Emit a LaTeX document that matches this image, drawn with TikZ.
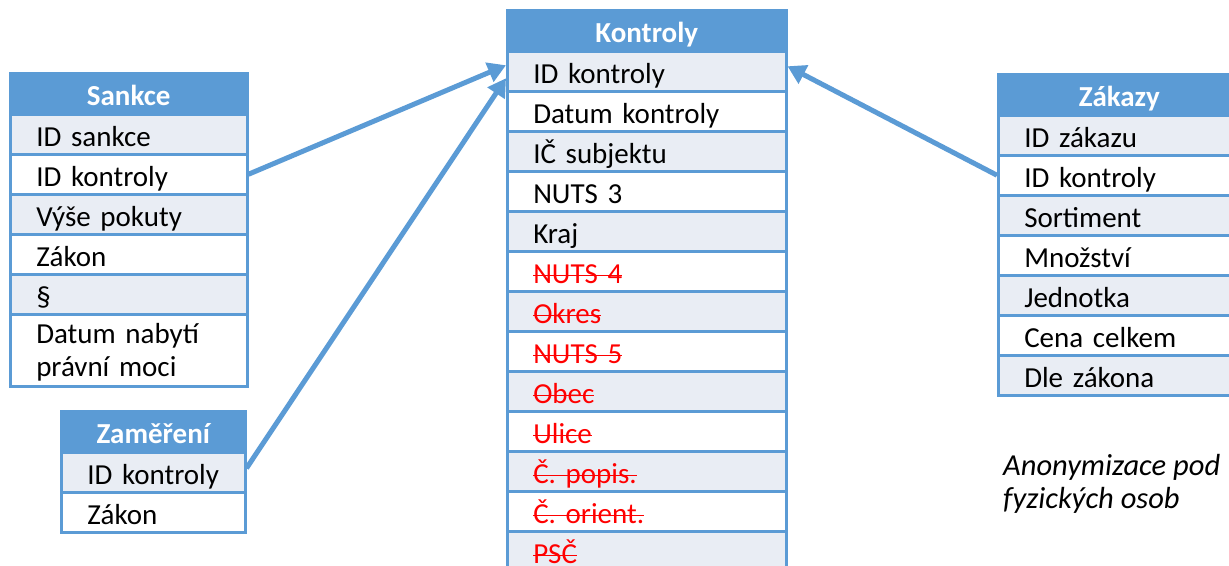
\documentclass[tikz,border=0pt]{standalone}
\usepackage{fontspec}
\setmainfont{Carlito}
\usetikzlibrary{arrows.meta,calc}
\definecolor{tblblue}{HTML}{5B9BD5}
\definecolor{band}{HTML}{E9EDF4}
\definecolor{strikered}{HTML}{FF0000}
\newcommand{\delrow}[1]{{\color{strikered}\setbox0=\hbox{#1}\rlap{\rule[0.5ex]{\wd0}{1.8pt}}\box0}}
\begin{document}
\begin{tikzpicture}[x=1pt,y=-1pt,
  cell/.style={draw=tblblue, line width=2.5pt, anchor=north west, inner xsep=26pt, inner ysep=0pt,
    text height=32pt, text depth=8pt, align=left, font=\fontsize{29}{33}\selectfont},
  shaded/.style={cell, fill=band},
  plain/.style={cell, fill=white},
  head/.style={draw=tblblue, fill=tblblue, line width=2.5pt, anchor=north west, inner xsep=0pt, inner ysep=0pt,
    text height=32pt, text depth=9pt, align=center, text=white, font=\fontsize{29}{33}\selectfont\bfseries},
  sankW/.style={text width=185pt},
  kontW/.style={text width=227pt},
  zakW/.style={text width=190pt},
  zamW/.style={text width=132pt},
  link/.style={draw=tblblue, line width=5pt, -{Triangle[length=18pt,width=20pt]}},
  note/.style={anchor=base west, inner sep=0pt, font=\fontsize{30.5}{33}\selectfont\itshape}
]
\path[use as bounding box] (0,0) rectangle (1229,565);
\clip (0,0) rectangle (1229,565);

% Sankce
\node[head, text width=237pt] (s0) at (9,72) {Sankce};
\node[shaded, sankW] (s1) at (9,113) {ID sankce};
\node[plain, sankW] (s2) at (9,153) {ID kontroly};
\node[shaded, sankW] (s3) at (9,193) {Výše pokuty};
\node[plain, sankW] (s4) at (9,233) {Zákon};
\node[shaded, sankW] (s5) at (9,273) {§};
\node[plain, sankW, text height={}, text depth={}, minimum height=72pt] (s6) at (9,313)
  {\rule{0pt}{29pt}Datum nabytí\\právní moci\rule[-10pt]{0pt}{10pt}};

% Kontroly
\node[head, text width=279pt] (k0) at (506,9) {Kontroly};
\node[shaded, kontW] (k1) at (506,50) {ID kontroly};
\node[plain, kontW] (k2) at (506,90) {Datum kontroly};
\node[shaded, kontW] (k3) at (506,130) {IČ subjektu};
\node[plain, kontW] (k4) at (506,170) {NUTS 3};
\node[shaded, kontW] (k5) at (506,210) {Kraj};
\node[plain, kontW] (k6) at (506,250) {\delrow{NUTS 4}};
\node[shaded, kontW] (k7) at (506,290) {\delrow{Okres}};
\node[plain, kontW] (k8) at (506,330) {\delrow{NUTS 5}};
\node[shaded, kontW] (k9) at (506,370) {\delrow{Obec}};
\node[plain, kontW] (k10) at (506,410) {\delrow{Ulice}};
\node[shaded, kontW] (k11) at (506,450) {\delrow{Č. popis.}};
\node[plain, kontW] (k12) at (506,490) {\delrow{Č. orient.}};
\node[shaded, kontW, text depth=4pt] (k13) at (506,530) {\delrow{PSČ}};

% Zakazy
\node[head, text width=242pt] (z0) at (997,73) {Zákazy};
\node[shaded, zakW] (z1) at (997,114) {ID zákazu};
\node[plain, zakW] (z2) at (997,154) {ID kontroly};
\node[shaded, zakW] (z3) at (997,194) {Sortiment};
\node[plain, zakW] (z4) at (997,234) {Množství};
\node[shaded, zakW] (z5) at (997,274) {Jednotka};
\node[plain, zakW] (z6) at (997,314) {Cena celkem};
\node[shaded, zakW] (z7) at (997,354) {Dle zákona};

% Zamereni
\node[head, text width=184pt] (m0) at (60,410) {Zaměření};
\node[shaded, zamW] (m1) at (60,451) {ID kontroly};
\node[plain, zamW] (m2) at (60,491) {Zákon};

% Note
\node[note] (n1) at (1003,475) {Anonymizace pod};
\node[note] (n2) at (1003,508) {fyzických osob};

% Links
\draw[link] (s2.east) -- ($(k1.west)+(0pt,6pt)$);
\draw[link] ($(m1.east)+(0pt,4pt)$) -- ($(k1.west)+(0pt,-7pt)$);
\draw[link] (z2.west) -- ($(k1.east)+(0pt,5pt)$);
\end{tikzpicture}
\end{document}
